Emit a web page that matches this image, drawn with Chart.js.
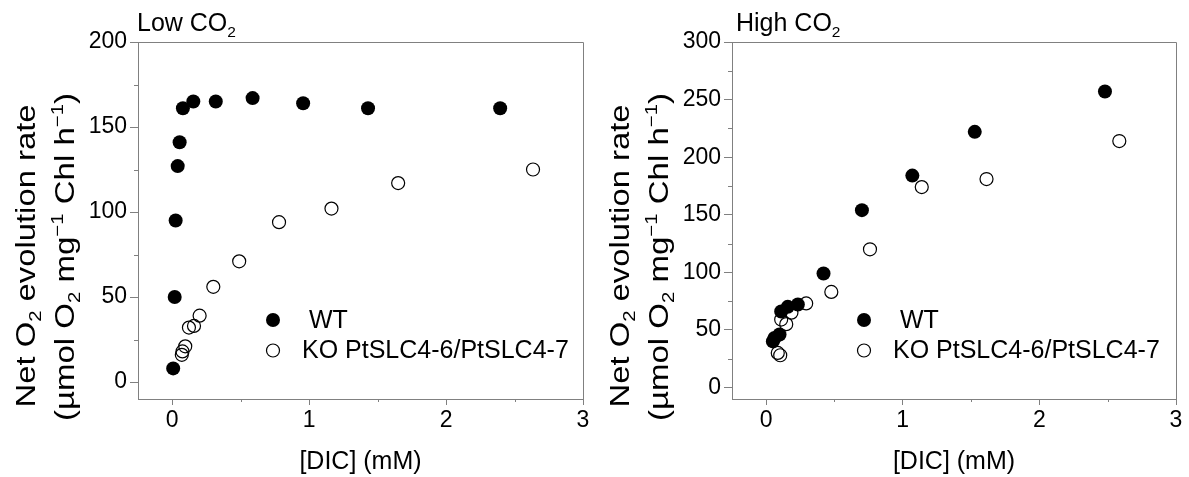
<!DOCTYPE html>
<html><head><meta charset="utf-8">
<script src="https://cdn.jsdelivr.net/npm/chart.js@4"></script>
<style>
html,body{margin:0;padding:0;background:#fff;}
#wrap{position:relative;width:1189px;height:477px;overflow:hidden;}
canvas{position:absolute;top:0;}
</style></head><body>
<div id="wrap">
<canvas id="c1" width="594" height="477" style="left:0px"></canvas>
<canvas id="c2" width="595" height="477" style="left:594px"></canvas>
</div>
<script>
// ---- data ----
const seriesNames = ['WT', 'KO PtSLC4-6/PtSLC4-7'];

const lowWT_x = [0.007, 0.018, 0.025, 0.040, 0.054, 0.078, 0.154, 0.318, 0.587, 0.956, 1.43, 2.395];
const lowWT_y = [8, 50, 95, 127, 141, 161, 165, 165, 167, 164, 161, 161];
const lowKO_x = [0.070, 0.075, 0.095, 0.122, 0.159, 0.200, 0.300, 0.489, 0.780, 1.163, 1.650, 2.635];
const lowKO_y = [16, 18, 21, 32, 33, 39, 56, 71, 94, 102, 117, 125];

const highWT_x = [0.049, 0.061, 0.098, 0.110, 0.158, 0.232, 0.420, 0.701, 1.070, 1.527, 2.480];
const highWT_y = [40, 43, 46, 66, 70, 72, 99, 154, 184, 222, 257];
const highKO_x = [0.085, 0.103, 0.110, 0.147, 0.185, 0.293, 0.477, 0.760, 1.139, 1.613, 2.585];
const highKO_y = [30, 28, 59, 55, 65, 73, 83, 120, 174, 181, 214];

const xTickLabels = ['0', '1', '2', '3'];
const lowYTickLabels = ['0', '50', '100', '150', '200'];
const highYTickLabels = ['0', '50', '100', '150', '200', '250', '300'];

const lowTitle = [{t: 'Low CO'}, {t: '2', k: 'sub'}];
const highTitle = [{t: 'High CO'}, {t: '2', k: 'sub'}];
const xTitle = [{t: '[DIC] (mM)'}];
const yTitle1 = [{t: 'Net O'}, {t: '2', k: 'sub'}, {t: ' evolution rate'}];
const yTitle2 = [{t: '(\u00B5mol O'}, {t: '2', k: 'sub'}, {t: ' mg'}, {t: '\u22121', k: 'sup'},
                 {t: ' Chl h'}, {t: '\u22121', k: 'sup'}, {t: ')'}];

// ---- helpers ----
const FAM = "'Liberation Sans', Arial, Helvetica, sans-serif";
const AXIS = '#808080';

function pairs(xs, ys) { return xs.map((x, i) => ({x: x, y: ys[i]})); }

function segFont(s, size) {
  const sz = (s.k === 'sub' || s.k === 'sup') ? size * 0.62 : size;
  return sz.toFixed(2) + 'px ' + FAM;
}
function richWidth(ctx, segs, size) {
  let w = 0;
  for (const s of segs) { ctx.font = segFont(s, size); w += ctx.measureText(s.t).width; }
  return w;
}
function drawRich(ctx, segs, x, y, size, align) {
  const total = richWidth(ctx, segs, size);
  let cx = align === 'center' ? x - total / 2 : x;
  ctx.textAlign = 'left';
  ctx.textBaseline = 'alphabetic';
  for (const s of segs) {
    ctx.font = segFont(s, size);
    const dy = s.k === 'sub' ? size * 0.24 : (s.k === 'sup' ? -size * 0.40 : 0);
    ctx.fillText(s.t, cx, y + dy);
    cx += ctx.measureText(s.t).width;
  }
}
// rotated title fitted to a given length along text direction
function drawRotRich(ctx, segs, baseX, centerY, size, targetLen) {
  const w = richWidth(ctx, segs, size);
  const sc = targetLen / w;
  ctx.save();
  ctx.translate(baseX, centerY);
  ctx.rotate(-Math.PI / 2);
  ctx.scale(sc, 1);
  drawRich(ctx, segs, 0, 0, size, 'center');
  ctx.restore();
}

const decor = {
  id: 'decor',
  afterDraw(chart, args, o) {
    const ctx = chart.ctx, a = chart.chartArea;
    const xs = chart.scales.x, ys = chart.scales.y;
    ctx.save();
    // top & right frame
    ctx.strokeStyle = AXIS; ctx.lineWidth = 1;
    ctx.beginPath();
    ctx.moveTo(Math.round(a.left) + 0.5, Math.round(a.top) + 0.5);
    ctx.lineTo(Math.round(a.right) + 0.5, Math.round(a.top) + 0.5);
    ctx.lineTo(Math.round(a.right) + 0.5, Math.round(a.bottom) + 0.5);
    ctx.stroke();
    // minor ticks
    ctx.beginPath();
    xs.ticks.forEach(t => {
      if (!Number.isInteger(t.value)) {
        const px = Math.round(xs.getPixelForValue(t.value)) + 0.5;
        ctx.moveTo(px, a.bottom); ctx.lineTo(px, a.bottom + 3);
      }
    });
    ys.ticks.forEach(t => {
      if (t.value % 50 !== 0) {
        const py = Math.round(ys.getPixelForValue(t.value)) + 0.5;
        ctx.moveTo(a.left - 4, py); ctx.lineTo(a.left, py);
      }
    });
    ctx.stroke();
    ctx.fillStyle = '#000';
    // panel title
    drawRich(ctx, o.title, a.left + o.titleDx, 31, 25, 'left');
    // x title
    drawRich(ctx, xTitle, (a.left + a.right) / 2, 469, 25, 'center');
    // y titles
    drawRotRich(ctx, yTitle1, 35, 256, 27, 303);
    drawRotRich(ctx, yTitle2, 74, 257, 27, 328);
    // legend
    const lx = a.left + o.legDx;
    chart.data.datasets.forEach((ds, i) => {
      const ly = 320 + i * 30.5;
      ctx.beginPath();
      ctx.arc(lx, ly, ds.pointRadius, 0, Math.PI * 2);
      if (ds.pointBorderWidth === 0) { ctx.fillStyle = ds.pointBackgroundColor; ctx.fill(); }
      else { ctx.lineWidth = ds.pointBorderWidth; ctx.strokeStyle = ds.pointBorderColor; ctx.stroke(); }
      ctx.fillStyle = '#000';
      ctx.font = '25px ' + FAM;
      ctx.textAlign = 'left';
      ctx.textBaseline = 'middle';
      ctx.fillText(ds.label, lx + (i === 0 ? 36 : 29), ly + 1);
    });
    ctx.restore();
  }
};

function makeChart(id, wt, ko, yMax, yLabels, title, padRight, titleDx, legDx) {
  return new Chart(document.getElementById(id), {
    type: 'scatter',
    data: {
      datasets: [
        {label: seriesNames[0], data: wt, pointRadius: 7, pointHoverRadius: 7,
         pointBackgroundColor: '#000', pointBorderColor: '#000', pointBorderWidth: 0, showLine: false},
        {label: seriesNames[1], data: ko, pointRadius: 6.5, pointHoverRadius: 6.5,
         pointBackgroundColor: 'rgba(255,255,255,0)', pointBorderColor: '#000', pointBorderWidth: 1.2, showLine: false}
      ]
    },
    options: {
      responsive: false, animation: false, devicePixelRatio: 1,
      layout: {padding: {top: 42, right: padRight, left: 0, bottom: 0}},
      plugins: {legend: {display: false}, tooltip: {enabled: false}, decor: {title: title, titleDx: titleDx, legDx: legDx}},
      clip: false,
      scales: {
        x: {
          type: 'linear', min: -0.25, max: 3,
          afterFit: s => { s.height = 78; },
          ticks: {stepSize: 0.5, includeBounds: false, autoSkip: false, maxRotation: 0, padding: 2,
                  color: '#000', font: {size: 23, family: FAM},
                  callback: v => { const i = xTickLabels.indexOf(String(v)); return i >= 0 ? xTickLabels[i] : ''; }},
          grid: {drawOnChartArea: false, drawTicks: true, tickLength: 6,
                 tickColor: c => (c.tick && Number.isInteger(c.tick.value)) ? AXIS : 'rgba(0,0,0,0)'},
          border: {display: true, color: AXIS, width: 1}
        },
        y: {
          type: 'linear', min: -10, max: yMax,
          afterFit: s => { s.width = 138; },
          ticks: {stepSize: 25, includeBounds: false, autoSkip: false, padding: 3,
                  color: '#000', font: {size: 23, family: FAM},
                  callback: v => { const i = yLabels.indexOf(String(v)); return i >= 0 ? yLabels[i] : ''; }},
          grid: {drawOnChartArea: false, drawTicks: true, tickLength: 8,
                 tickColor: c => (c.tick && c.tick.value % 50 === 0) ? AXIS : 'rgba(0,0,0,0)'},
          border: {display: true, color: AXIS, width: 1}
        }
      }
    },
    plugins: [decor]
  });
}

makeChart('c1', pairs(lowWT_x, lowWT_y), pairs(lowKO_x, lowKO_y), 200, lowYTickLabels, lowTitle, 11, -1, 135);
makeChart('c2', pairs(highWT_x, highWT_y), pairs(highKO_x, highKO_y), 300, highYTickLabels, highTitle, 13, 4, 132);
</script>
</body></html>
